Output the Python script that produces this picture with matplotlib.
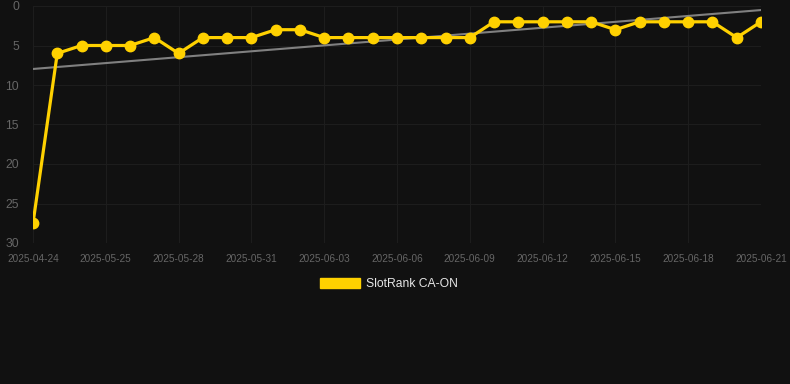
"""SlotRank CA-ON rank history with trend line."""
import numpy as np
import matplotlib.pyplot as plt
from matplotlib.patches import Patch

dates = ["2025-04-24"] + [f"2025-05-{d:02d}" for d in range(23, 32)] + \
        [f"2025-06-{d:02d}" for d in range(1, 22)]
ranks = [27.5, 6, 5, 5, 5, 4, 6, 4, 4, 4, 3, 3, 4, 4, 4, 4,
         4, 4, 4, 2, 2, 2, 2, 2, 3, 2, 2, 2, 2, 4, 2]
series_name = "SlotRank CA-ON"

BG = "#111111"
GOLD = "#FFD100"

fig = plt.figure(figsize=(7.9, 3.84), dpi=100, facecolor=BG)
ax = fig.add_axes([33 / 790, 1 - 243 / 384, (761 - 33) / 790, (243 - 6) / 384])
ax.set_facecolor(BG)

x = np.arange(len(dates))
ax.plot(x, ranks, color=GOLD, lw=2.3, marker="o", ms=7.5, zorder=3)

# linear trend over the series
k, b = np.polyfit(x, ranks, 1)
ax.plot(x, k * x + b, color="#808080", lw=1.5, zorder=2)

ax.set_xlim(0, len(dates) - 1)
ax.set_ylim(30, 0)
ax.set_yticks(range(0, 31, 5))
ax.set_xticks(x[::3])
ax.set_xticklabels(dates[::3])
ax.grid(True, color="#1d1d1d", lw=0.8)
for s in ax.spines.values():
    s.set_visible(False)
ax.tick_params(axis="both", length=0, colors="#666666")
ax.tick_params(axis="x", labelsize=7.2, pad=8)
ax.tick_params(axis="y", labelsize=8.8, pad=10)
for lab in ax.get_xticklabels() + ax.get_yticklabels():
    lab.set_family(["Liberation Sans", "DejaVu Sans"])

fig.legend(handles=[Patch(facecolor=GOLD, edgecolor=GOLD)], labels=[series_name],
           loc="center", bbox_to_anchor=(389 / 790, 1 - 284 / 384),
           frameon=False, handlelength=3.3, handleheight=0.9, handletextpad=0.5,
           prop={"family": ["Liberation Sans", "DejaVu Sans"], "size": 8.7},
           labelcolor="#e6e6e6")

fig.savefig("out.png", facecolor=BG)
